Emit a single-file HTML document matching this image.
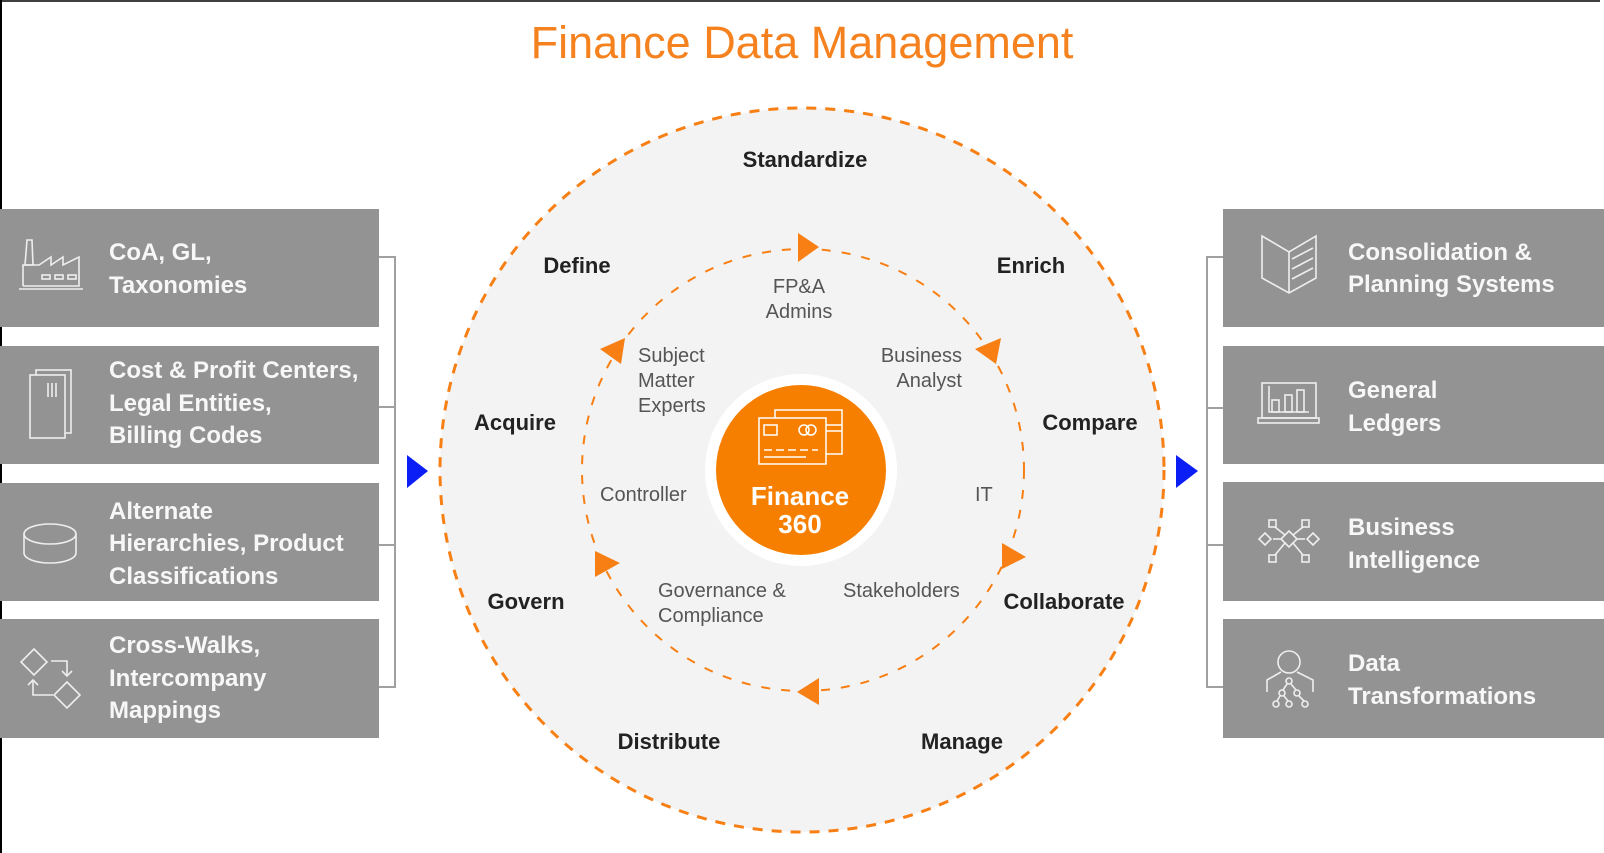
<!DOCTYPE html>
<html><head><meta charset="utf-8"><style>
html,body{margin:0;padding:0;background:#fff;}
svg{display:block;}
text{font-family:"Liberation Sans",Arial,sans-serif;}
.bx{fill:#939393;}
.bt{fill:#f7f7f7;font-size:24px;font-weight:bold;}
.ol{fill:#222;font-size:22px;font-weight:bold;}
.il{fill:#555;font-size:20px;}
.ic{fill:none;stroke:#eee;stroke-width:1.6;}
</style></head><body>
<svg width="1604" height="853" viewBox="0 0 1604 853" xmlns="http://www.w3.org/2000/svg">
<rect x="0" y="0" width="1604" height="853" fill="#fff"/>
<line x1="1" y1="0" x2="1" y2="853" stroke="#000" stroke-width="2"/>
<line x1="0" y1="1" x2="1600" y2="1" stroke="#000" stroke-width="1.5"/>
<text x="802" y="58" text-anchor="middle" fill="#f5821f" font-size="45">Finance Data Management</text>

<circle cx="802" cy="470" r="362" fill="#f3f3f3" stroke="#f77f14" stroke-width="3" stroke-dasharray="10 9"/>
<circle cx="803" cy="470" r="221" fill="none" stroke="#f77f14" stroke-width="2" stroke-dasharray="9 11"/>
<g fill="#f77f14">
<polygon points="798,233 819,247 798,262"/>
<polygon points="975,349 1001,338 996,364"/>
<polygon points="1002,543 1026,557 1002,569"/>
<polygon points="819,678 797,692 819,705"/>
<polygon points="595,551 620,563 595,577"/>
<polygon points="600,349 625,338 621,364"/>
</g>
<circle cx="801" cy="470" r="96" fill="#fff"/>
<circle cx="801" cy="470" r="85" fill="#f77f00"/>
<g fill="none" stroke="#fff" stroke-width="1.5">
<rect x="775" y="410" width="67" height="44"/>
<rect x="759" y="418" width="67" height="46" fill="#f77f00"/>
<rect x="764" y="425" width="13" height="10"/>
<circle cx="804" cy="430" r="5"/><circle cx="811" cy="430" r="5"/>
<line x1="764" y1="450" x2="818" y2="450" stroke-dasharray="8 4"/>
<line x1="764" y1="457" x2="806" y2="457"/>
<line x1="826" y1="425" x2="842" y2="425"/><line x1="826" y1="431" x2="842" y2="431"/>
</g>
<text x="800" y="505" text-anchor="middle" fill="#fff" font-size="26" font-weight="bold">Finance</text>
<text x="800" y="533" text-anchor="middle" fill="#fff" font-size="26" font-weight="bold">360</text>

<g class="ol" text-anchor="middle">
<text x="805" y="167">Standardize</text>
<text x="577" y="273">Define</text>
<text x="1031" y="273">Enrich</text>
<text x="515" y="430">Acquire</text>
<text x="1090" y="430">Compare</text>
<text x="526" y="609">Govern</text>
<text x="1064" y="609">Collaborate</text>
<text x="669" y="749">Distribute</text>
<text x="962" y="749">Manage</text>
</g>
<g class="il">
<text x="799" y="293" text-anchor="middle">FP&amp;A</text>
<text x="799" y="318" text-anchor="middle">Admins</text>
<text x="638" y="362">Subject</text>
<text x="638" y="387">Matter</text>
<text x="638" y="412">Experts</text>
<text x="962" y="362" text-anchor="end">Business</text>
<text x="962" y="387" text-anchor="end">Analyst</text>
<text x="600" y="501">Controller</text>
<text x="975" y="501">IT</text>
<text x="658" y="597">Governance &amp;</text>
<text x="658" y="622">Compliance</text>
<text x="843" y="597">Stakeholders</text>
</g>

<polygon points="407,455 428,471 407,488" fill="#0a1ef5"/>
<polygon points="1176,455 1198,471 1176,488" fill="#0a1ef5"/>

<g stroke="#a0a0a0" stroke-width="2" fill="none">
<polyline points="379,257 395,257 395,687 379,687"/>
<line x1="379" y1="407" x2="395" y2="407"/>
<line x1="379" y1="545" x2="395" y2="545"/>
<polyline points="1223,257 1207,257 1207,687 1223,687"/>
<line x1="1223" y1="408" x2="1207" y2="408"/>
<line x1="1223" y1="545" x2="1207" y2="545"/>
</g>

<rect class="bx" x="0" y="209" width="379" height="118"/>
<rect class="bx" x="0" y="346" width="379" height="118"/>
<rect class="bx" x="0" y="483" width="379" height="118"/>
<rect class="bx" x="0" y="619" width="379" height="119"/>
<g class="bt">
<text x="109" y="260">CoA, GL,</text>
<text x="109" y="293">Taxonomies</text>
<text x="109" y="378">Cost &amp; Profit Centers,</text>
<text x="109" y="411">Legal Entities,</text>
<text x="109" y="443">Billing Codes</text>
<text x="109" y="519">Alternate</text>
<text x="109" y="551">Hierarchies, Product</text>
<text x="109" y="584">Classifications</text>
<text x="109" y="653">Cross-Walks,</text>
<text x="109" y="686">Intercompany</text>
<text x="109" y="718">Mappings</text>
</g>
<g class="ic">
<polyline points="19,289 83,289"/>
<polyline points="23,286 23,265 39,265 51,257 51,265 63,257 63,265 79,257 79,286 23,286"/>
<polygon points="25,265 27,240 32,240 33,265"/>
<rect x="42" y="275" width="8" height="4"/><rect x="55" y="275" width="8" height="4"/><rect x="68" y="275" width="8" height="4"/>
<rect x="36" y="370" width="35" height="63"/>
<rect x="30" y="375" width="35" height="63" fill="#939393"/>
<line x1="48" y1="383" x2="48" y2="397"/><line x1="52" y1="383" x2="52" y2="397"/><line x1="56" y1="383" x2="56" y2="397"/>
<ellipse cx="50" cy="534" rx="26" ry="10"/>
<path d="M24,534 V553 A26,10 0 0 0 76,553 V534"/>
<polygon points="34,649 47,662 34,675 21,662"/>
<polygon points="67,682 80,695 67,708 54,695"/>
<polyline points="51,661 67,661 67,676"/><polyline points="62,671 67,676 72,671"/>
<polyline points="53,695 33,695 33,680"/><polyline points="28,685 33,680 38,685"/>
</g>

<rect class="bx" x="1223" y="209" width="381" height="118"/>
<rect class="bx" x="1223" y="346" width="381" height="118"/>
<rect class="bx" x="1223" y="482" width="381" height="119"/>
<rect class="bx" x="1223" y="619" width="381" height="119"/>
<g class="bt">
<text x="1348" y="260">Consolidation &amp;</text>
<text x="1348" y="292">Planning Systems</text>
<text x="1348" y="398">General</text>
<text x="1348" y="431">Ledgers</text>
<text x="1348" y="535">Business</text>
<text x="1348" y="568">Intelligence</text>
<text x="1348" y="671">Data</text>
<text x="1348" y="704">Transformations</text>
</g>
<g class="ic">
<polygon points="1262,236 1289,252 1316,236 1316,278 1289,293 1262,278"/>
<line x1="1289" y1="252" x2="1289" y2="293"/>
<line x1="1292" y1="259" x2="1313" y2="248"/><line x1="1292" y1="269" x2="1313" y2="258"/><line x1="1292" y1="279" x2="1313" y2="268"/>
<rect x="1262" y="383" width="54" height="35"/>
<rect x="1258" y="418" width="61" height="5"/>
<polyline points="1269,386 1269,412 1309,412"/>
<rect x="1272" y="400" width="7" height="12"/><rect x="1285" y="395" width="7" height="17"/><rect x="1297" y="390" width="7" height="22"/>
<polygon points="1289,531 1297,539 1289,547 1281,539"/>
<line x1="1281" y1="539" x2="1273" y2="539"/><line x1="1297" y1="539" x2="1305" y2="539"/>
<polygon points="1265,533 1271,539 1265,545 1259,539"/>
<polygon points="1313,533 1319,539 1313,545 1307,539"/>
<rect x="1269" y="520" width="7" height="7"/><rect x="1302" y="520" width="7" height="7"/>
<rect x="1269" y="555" width="7" height="7"/><rect x="1302" y="555" width="7" height="7"/>
<line x1="1275" y1="527" x2="1285" y2="535"/><line x1="1303" y1="527" x2="1293" y2="535"/>
<line x1="1275" y1="555" x2="1285" y2="543"/><line x1="1303" y1="555" x2="1293" y2="543"/>
<circle cx="1289" cy="662" r="11"/>
<polyline points="1267,692 1267,680 1281,672"/><polyline points="1313,692 1313,680 1297,672"/>
<circle cx="1289" cy="681" r="3"/><circle cx="1282" cy="693" r="3"/><circle cx="1297" cy="693" r="3"/>
<circle cx="1276" cy="704" r="3"/><circle cx="1289" cy="704" r="3"/><circle cx="1305" cy="704" r="3"/>
<line x1="1287" y1="684" x2="1283" y2="690"/><line x1="1291" y1="684" x2="1296" y2="690"/>
<line x1="1280" y1="696" x2="1277" y2="701"/><line x1="1284" y1="696" x2="1288" y2="701"/><line x1="1299" y1="696" x2="1304" y2="701"/>
</g>
</svg>
</body></html>
